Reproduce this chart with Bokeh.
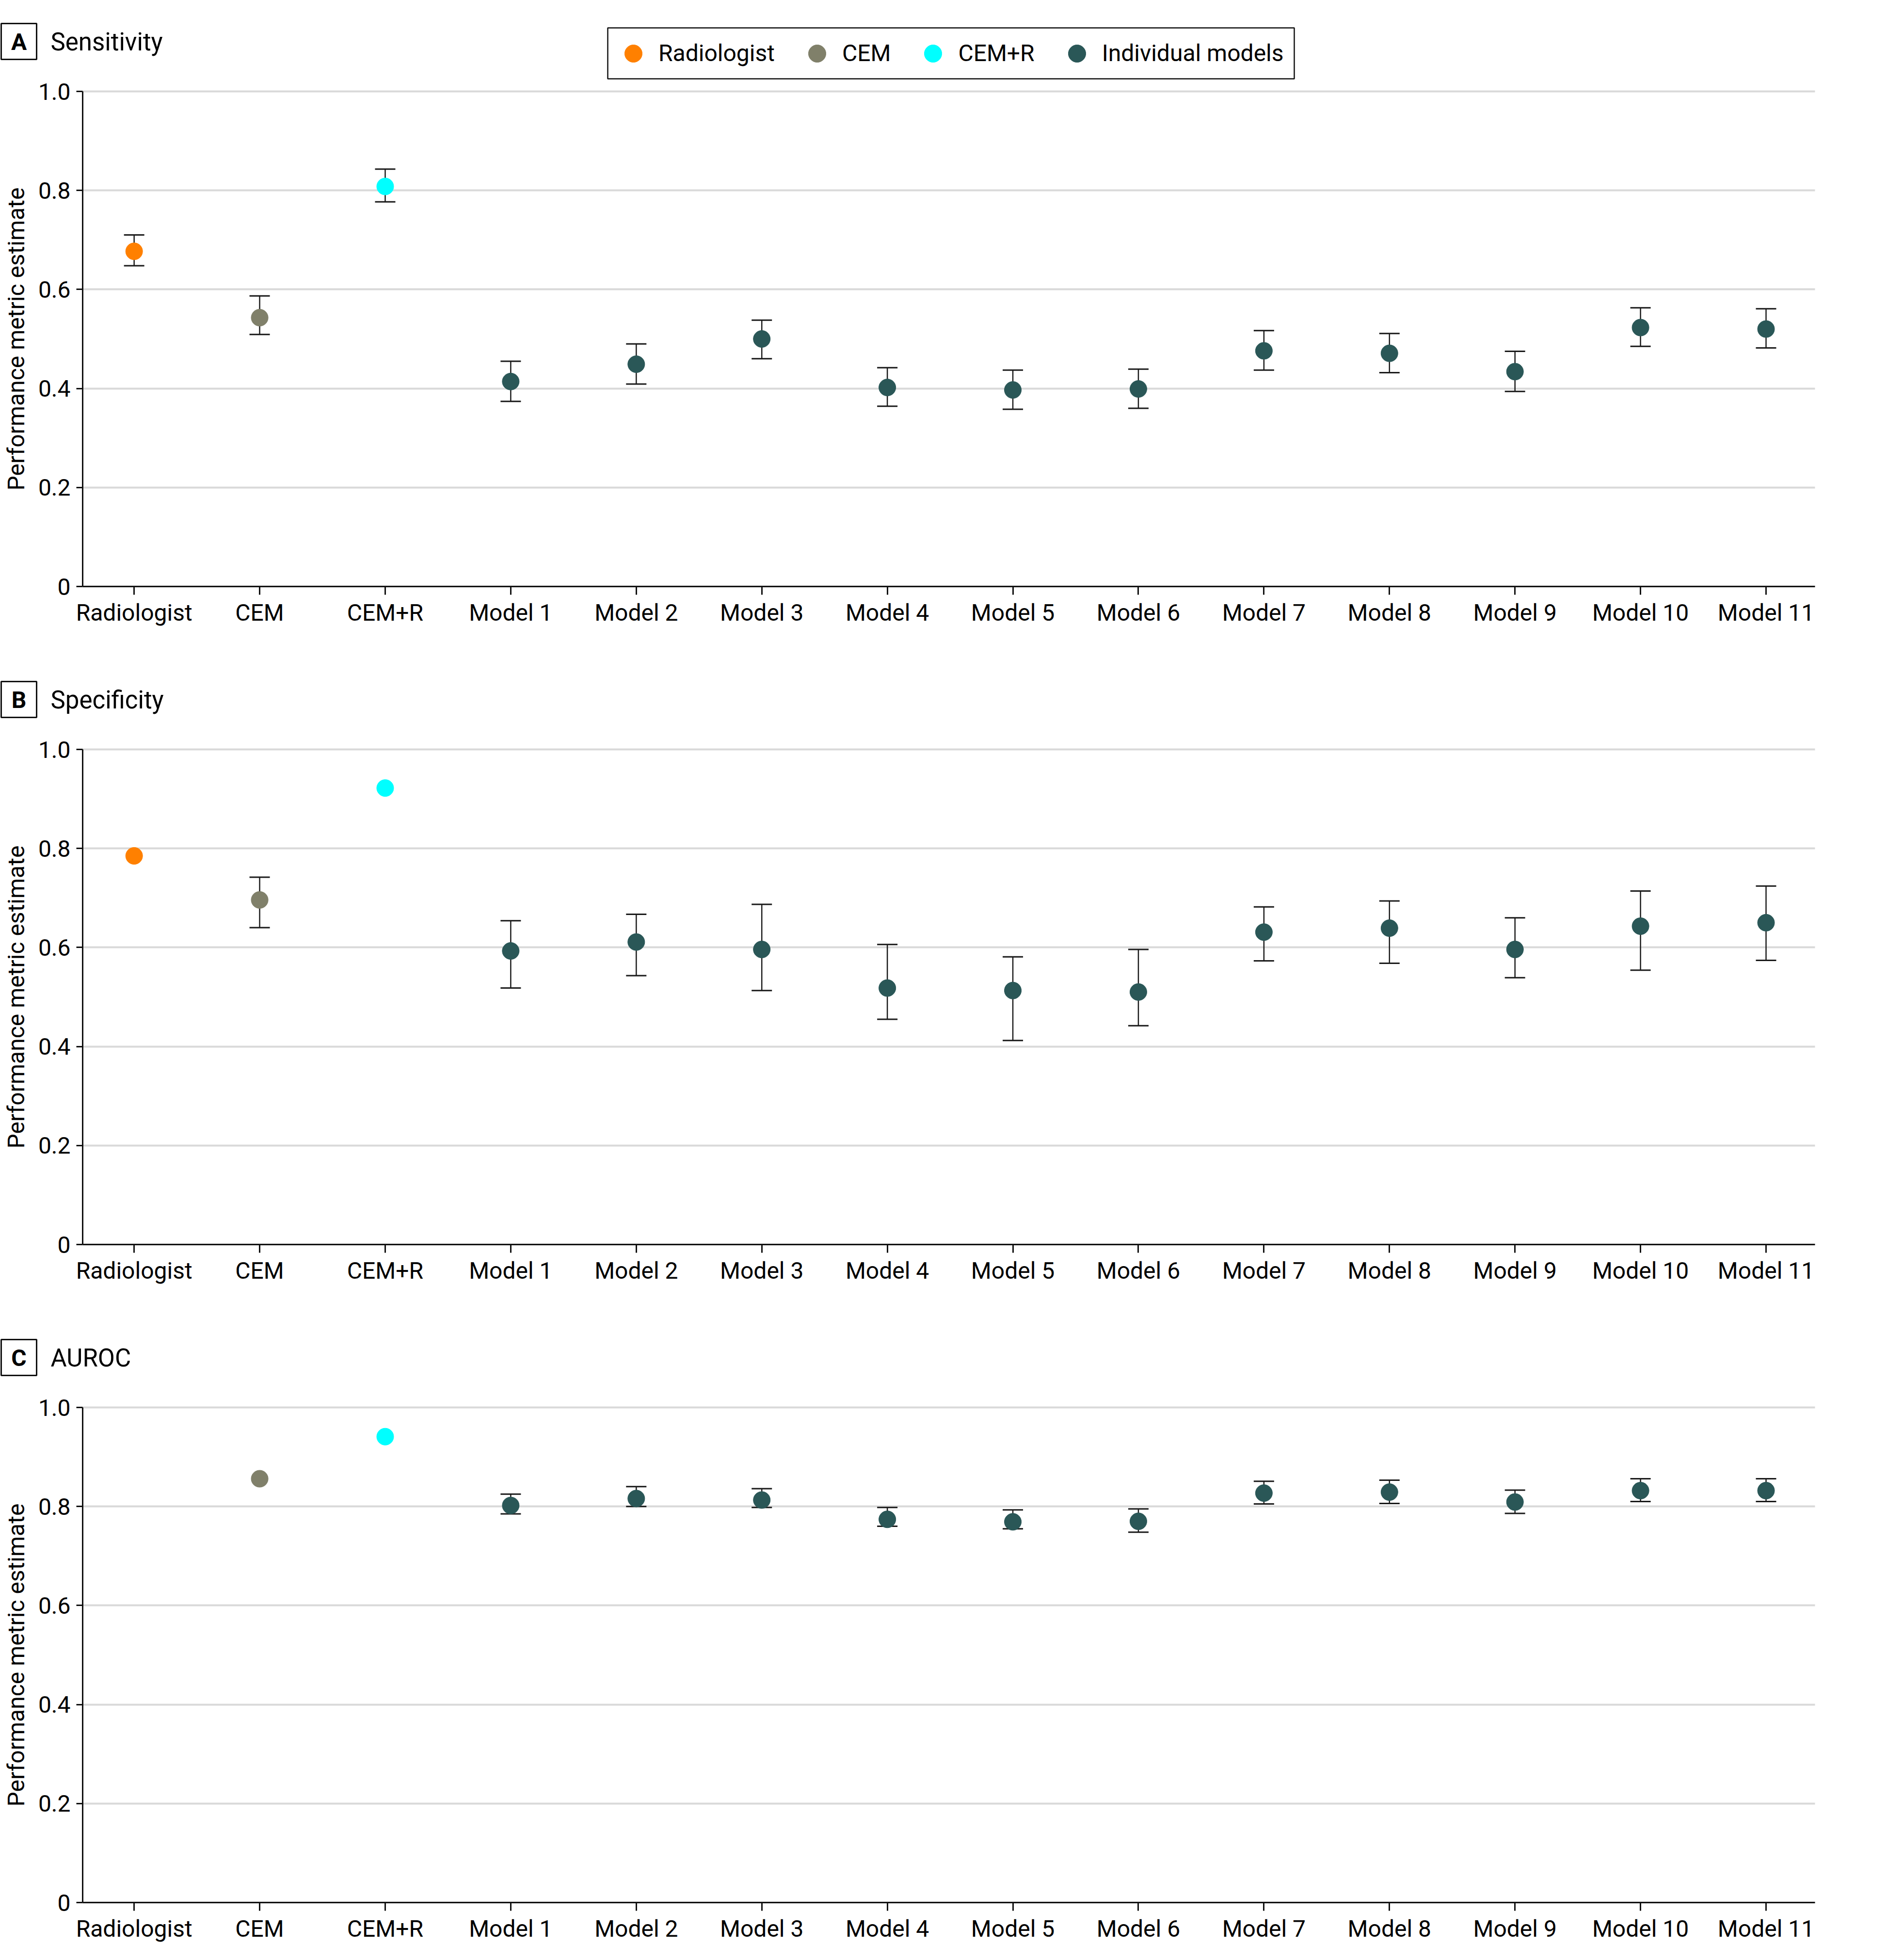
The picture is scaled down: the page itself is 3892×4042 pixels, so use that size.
from bokeh.plotting import figure
from bokeh.models import (Range1d, FixedTicker, Legend, LegendItem, Label, LinearAxis, Grid)
from bokeh.layouts import column
from bokeh.embed import file_html
from bokeh.resources import INLINE

# ---------------- data ----------------
categories = ["Radiologist", "CEM", "CEM+R", "Model 1", "Model 2", "Model 3", "Model 4",
              "Model 5", "Model 6", "Model 7", "Model 8", "Model 9", "Model 10", "Model 11"]
groups = ["Radiologist", "CEM", "CEM+R"] + ["Individual models"] * 11
group_names = ["Radiologist", "CEM", "CEM+R", "Individual models"]
group_colors = ["#FF8000", "#80806A", "#00FFFF", "#2A5757"]

sens_est = [0.677, 0.543, 0.808, 0.414, 0.449, 0.500, 0.402, 0.397, 0.399, 0.476, 0.471, 0.434, 0.523, 0.520]
sens_lo = [0.648, 0.509, 0.777, 0.374, 0.409, 0.460, 0.364, 0.358, 0.360, 0.437, 0.432, 0.394, 0.485, 0.482]
sens_hi = [0.710, 0.587, 0.843, 0.455, 0.490, 0.538, 0.442, 0.437, 0.439, 0.517, 0.511, 0.475, 0.563, 0.561]

spec_est = [0.785, 0.696, 0.922, 0.593, 0.611, 0.596, 0.518, 0.513, 0.510, 0.631, 0.639, 0.596, 0.643, 0.650]
spec_lo = [None, 0.640, None, 0.518, 0.543, 0.513, 0.455, 0.412, 0.442, 0.573, 0.568, 0.539, 0.554, 0.574]
spec_hi = [None, 0.742, None, 0.654, 0.667, 0.687, 0.606, 0.581, 0.596, 0.682, 0.694, 0.660, 0.714, 0.724]

auroc_est = [None, 0.856, 0.941, 0.802, 0.816, 0.813, 0.774, 0.769, 0.770, 0.827, 0.829, 0.809, 0.832, 0.832]
auroc_lo = [None, None, None, 0.785, 0.800, 0.798, 0.760, 0.755, 0.748, 0.805, 0.806, 0.786, 0.810, 0.810]
auroc_hi = [None, None, None, 0.825, 0.840, 0.836, 0.798, 0.793, 0.795, 0.851, 0.853, 0.833, 0.856, 0.856]

y_ticks = [0, 0.2, 0.4, 0.6, 0.8, 1.0]
y_tick_labels = ["0", "0.2", "0.4", "0.6", "0.8", "1.0"]

# ---------------- styling / layout constants ----------------
FONT = "Roboto"
FS = "48px"
TITLE_FS = "51px"
INK = "#111111"

FIG_W = 3803                 # canvas width
AX_LEFT = 170                # canvas x of the y axis line
AX_RIGHT = 60                # space right of the plotting area
AX_W = FIG_W - AX_LEFT - AX_RIGHT
X_LO, X_HI = -0.41, 13.39    # data extent of the plotting area
PXX = AX_W / (X_HI - X_LO)
PXY = 1021                   # px per unit on y

X_START = X_LO - AX_LEFT / PXX
X_END = X_HI + AX_RIGHT / PXX


def cx(px):
    """canvas x (px) -> data x"""
    return X_START + px / PXX


def above(d):
    """d px above the 1.0 line -> data y"""
    return 1 + d / PXY


def make_panel(letter, title, est, lo, hi, top, bottom, with_legend):
    n = len(categories)
    height = top + PXY + bottom
    p = figure(width=FIG_W, height=height,
               x_range=Range1d(X_START, X_END),
               y_range=Range1d(-bottom / PXY, 1 + top / PXY),
               x_axis_location=None, y_axis_location=None,
               output_backend="svg", toolbar_location=None, title=None,
               min_border=0, background_fill_color="white", border_fill_color="white",
               outline_line_color=None)
    p.xgrid.visible = False
    p.ygrid.visible = False

    grid = Grid(dimension=1, ticker=FixedTicker(ticks=y_ticks), bounds=(0, 1),
                cross_bounds=(X_LO, X_HI), grid_line_color="#d9d9d9", grid_line_width=4)
    p.add_layout(grid)

    # error bars
    xs = [i for i in range(n) if lo[i] is not None]
    los = [lo[i] for i in xs]
    his = [hi[i] for i in xs]
    if xs:
        p.segment(x0=xs, y0=los, x1=xs, y1=his, line_color="#1a1a1a", line_width=2.5)
        p.scatter(x=xs + xs, y=los + his, marker="dash", size=42,
                  line_color="#1a1a1a", line_width=3)

    # points
    rends = {}
    for g, c in zip(group_names, group_colors):
        idx = [i for i in range(n) if groups[i] == g and est[i] is not None]
        rends[g] = p.scatter(x=idx, y=[est[i] for i in idx], size=35, fill_color=c, line_color=c)

    # axes
    xaxis = LinearAxis(fixed_location=0, bounds=(X_LO, X_HI),
                       ticker=FixedTicker(ticks=list(range(n))),
                       major_label_overrides={i: c for i, c in enumerate(categories)})
    yaxis = LinearAxis(fixed_location=X_LO, bounds=(0, 1),
                       ticker=FixedTicker(ticks=y_ticks),
                       major_label_overrides={t: l for t, l in zip(y_ticks, y_tick_labels)},
                       axis_label="Performance metric estimate")
    for ax in (xaxis, yaxis):
        ax.axis_line_width = 3
        ax.axis_line_color = INK
        ax.major_tick_line_width = 3
        ax.major_tick_line_color = INK
        ax.major_tick_in = 0
        ax.minor_tick_line_color = None
        ax.major_label_text_font = FONT
        ax.major_label_text_font_size = FS
        ax.major_label_text_color = "#000000"
    xaxis.major_tick_out = 17
    xaxis.major_label_standoff = 8
    yaxis.major_tick_out = 13
    yaxis.major_label_standoff = 12
    yaxis.axis_label_text_font = FONT
    yaxis.axis_label_text_font_size = FS
    yaxis.axis_label_text_font_style = "normal"
    yaxis.axis_label_text_color = "#000000"
    yaxis.axis_label_standoff = 14
    p.add_layout(xaxis, "below")
    p.add_layout(yaxis, "left")

    # boxed panel letter and panel title
    p.quad(left=cx(2), right=cx(75), top=above(140), bottom=above(66),
           fill_color="white", line_color=INK, line_width=3)
    p.add_layout(Label(x=cx(38.5), y=above(102), text=letter, text_font=FONT,
                       text_font_style="bold", text_font_size=FS, text_align="center",
                       text_baseline="alphabetic", text_color="#000000"))
    p.add_layout(Label(x=cx(104), y=above(102), text=title, text_font=FONT,
                       text_font_size=TITLE_FS, text_align="left",
                       text_baseline="alphabetic", text_color="#000000"))

    if with_legend:
        p.quad(left=cx(1253), right=cx(2669), top=above(131), bottom=above(26),
               fill_color="white", line_color=INK, line_width=2.5)
        items = [LegendItem(label=g, renderers=[rends[g]]) for g in group_names]
        # legend glyph row: 90 px tall, dots centred 78.5 px above the 1.0 line
        legend = Legend(items=items, orientation="horizontal",
                        location=(1261, bottom + PXY + 78.5 - 45),
                        label_text_font=FONT, label_text_font_size=FS,
                        label_text_color="#000000",
                        glyph_width=90, glyph_height=90, label_standoff=7,
                        spacing=42, padding=0, margin=0,
                        border_line_color=None, background_fill_alpha=0)
        p.add_layout(legend, "center")
    return p


pA = make_panel("A", "Sensitivity", sens_est, sens_lo, sens_hi, 188, 156, True)
pB = make_panel("B", "Specificity", spec_est, spec_lo, spec_hi, 180, 156, False)
pC = make_panel("C", "AUROC", auroc_est, auroc_lo, auroc_hi, 180, 110, False)

layout = column(pA, pB, pC)
open("out.html", "w").write(file_html(layout, INLINE))
